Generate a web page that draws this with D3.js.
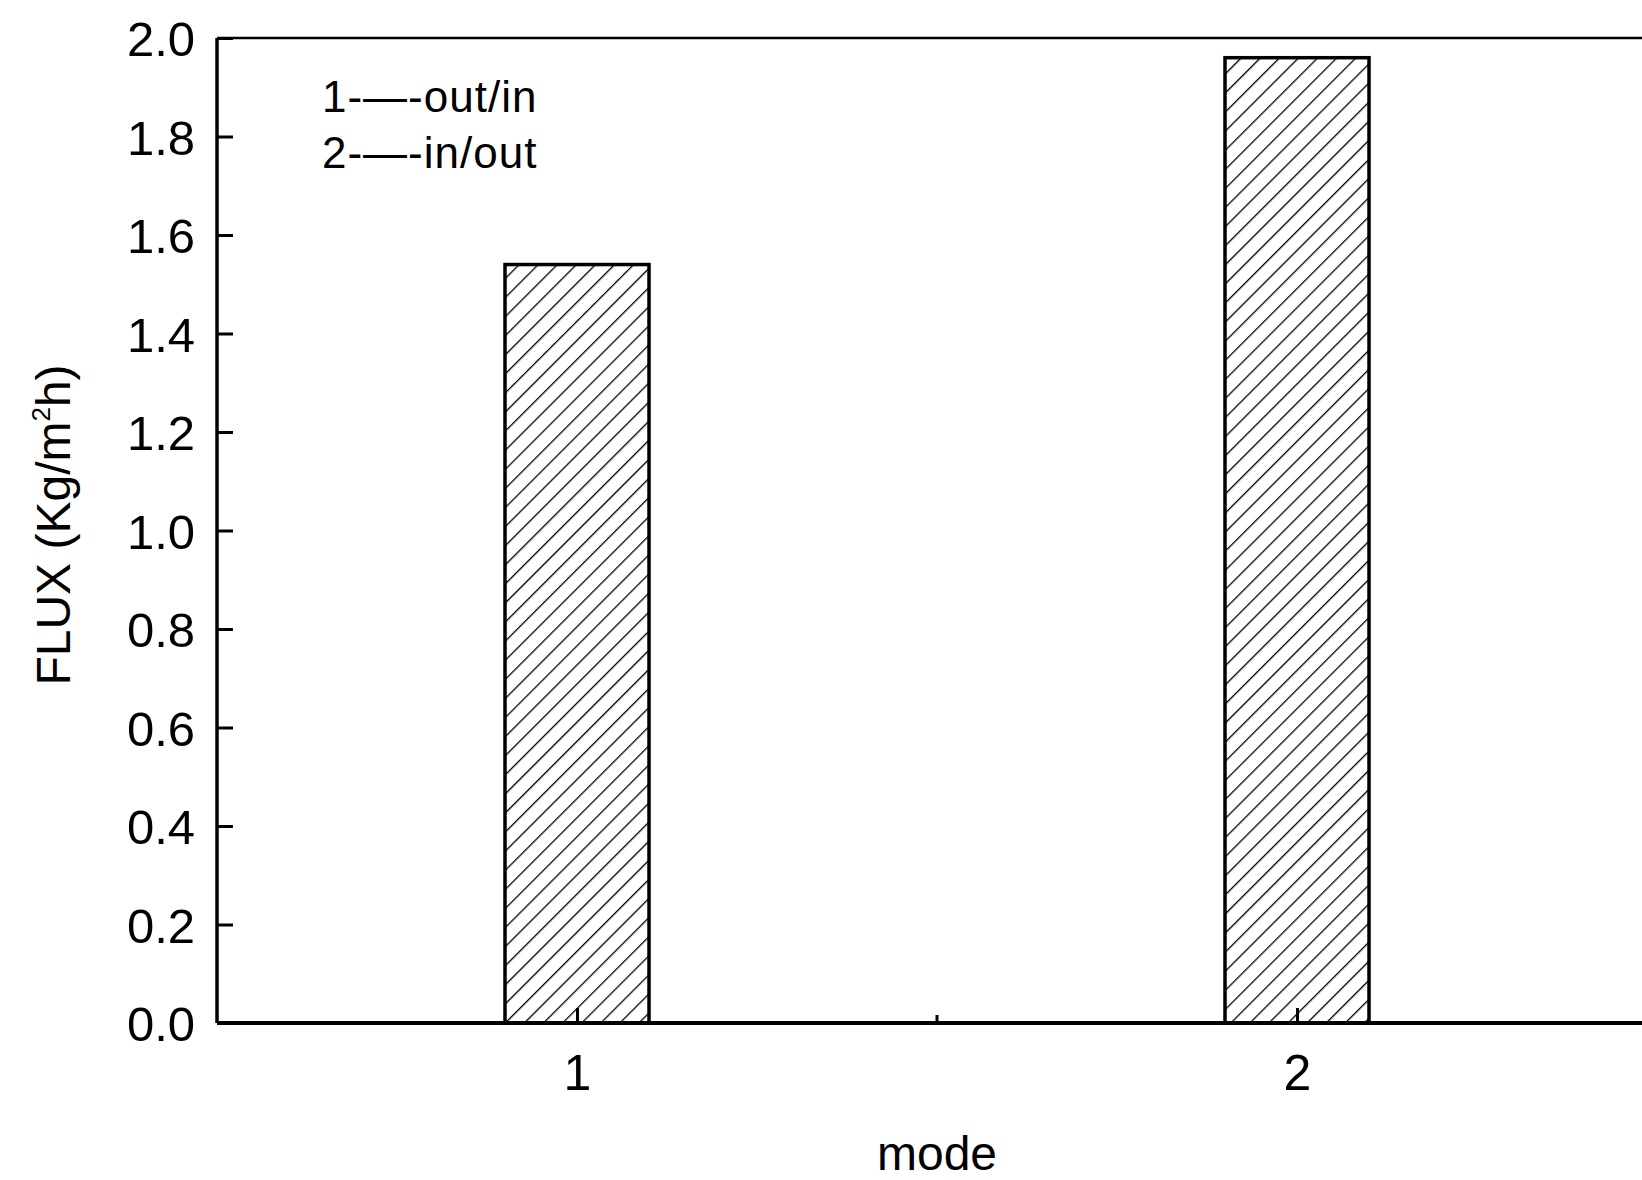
<!DOCTYPE html>
<html>
<head>
<meta charset="utf-8">
<script src="https://cdn.jsdelivr.net/npm/d3@7"></script>
<style>
  html, body { margin: 0; padding: 0; background: #fff; }
  svg { display: block; }
  text { font-family: "Liberation Sans", Arial, sans-serif; fill: #000; }
</style>
</head>
<body>
<svg id="chart" width="1642" height="1180"></svg>
<script>
// Permeate flux for the two flow modes
const modes = [1, 2];
const flux = [1.54, 1.96];
const yTicks = [0.0, 0.2, 0.4, 0.6, 0.8, 1.0, 1.2, 1.4, 1.6, 1.8, 2.0];
const xTicks = [1, 2];
const legendLines = ["1-\u2014-out/in", "2-\u2014-in/out"];

const svg = d3.select("#chart");
const W = 1642, H = 1180;
const plotLeft = 217, plotRight = 1657, plotTop = 38, plotBottom = 1023;

const x = d3.scaleLinear().domain([0.5, 2.5]).range([plotLeft, plotRight]);
const y = d3.scaleLinear().domain([0, 2.0]).range([plotBottom, plotTop]);
const barW = 0.2;

// diagonal hatching
const defs = svg.append("defs");
const pat = defs.append("pattern")
  .attr("id", "hatch")
  .attr("patternUnits", "userSpaceOnUse")
  .attr("width", 13.5).attr("height", 13.5)
  .attr("patternTransform", "rotate(45)");
pat.append("rect").attr("width", 13.5).attr("height", 13.5).attr("fill", "#fff");
pat.append("line")
  .attr("x1", 0).attr("y1", 0).attr("x2", 0).attr("y2", 13.5)
  .attr("stroke", "#000").attr("stroke-width", 2.6);

// bars
svg.append("g").selectAll("rect")
  .data(modes.map((m, i) => ({ m, v: flux[i] })))
  .join("rect")
  .attr("x", d => x(d.m - barW / 2))
  .attr("width", d => x(d.m + barW / 2) - x(d.m - barW / 2))
  .attr("y", d => y(d.v))
  .attr("height", d => y(0) - y(d.v))
  .attr("fill", "url(#hatch)")
  .attr("stroke", "#000")
  .attr("stroke-width", 3.5);

// top frame line
svg.append("line").attr("x1", plotLeft).attr("x2", W).attr("y1", plotTop).attr("y2", plotTop)
  .attr("stroke", "#000").attr("stroke-width", 2.5);

// y axis (ticks pointing inward)
const yAxis = d3.axisRight(y).tickValues(yTicks).tickSize(16).tickFormat(d3.format(".1f"));
const gy = svg.append("g").attr("transform", `translate(${plotLeft},0)`).call(yAxis);
gy.select(".domain").attr("stroke-width", 3.5).attr("d", `M0,${plotTop}V${plotBottom}`);
gy.selectAll(".tick line").attr("stroke-width", 3);
gy.selectAll(".tick text")
  .attr("x", -22).attr("text-anchor", "end").attr("dy", "0.36em")
  .style("font-size", "49px");

// x axis (ticks pointing inward)
const xAxis = d3.axisTop(x).tickValues(xTicks).tickSize(15).tickFormat(d3.format("d"));
const gx = svg.append("g").attr("transform", `translate(0,${plotBottom})`).call(xAxis);
gx.select(".domain").attr("stroke-width", 4).attr("d", `M${plotLeft},0H${W}`);
gx.selectAll(".tick line").attr("stroke-width", 3);
gx.selectAll(".tick text")
  .attr("y", 67).attr("dy", 0)
  .style("font-size", "50px");

// minor x tick
svg.append("line")
  .attr("x1", x(1.5)).attr("x2", x(1.5))
  .attr("y1", plotBottom).attr("y2", plotBottom - 8)
  .attr("stroke", "#000").attr("stroke-width", 3);

// axis titles
svg.append("text")
  .attr("x", (x(1) + x(2)) / 2).attr("y", 1170)
  .attr("text-anchor", "middle")
  .style("font-size", "48px")
  .text("mode");

const yt = svg.append("text")
  .attr("transform", `translate(70,${525}) rotate(-90)`)
  .attr("text-anchor", "middle")
  .style("font-size", "48px");
yt.append("tspan").text("FLUX (Kg/m");
yt.append("tspan").attr("dy", -20).style("font-size", "26px").text("2");
yt.append("tspan").attr("dy", 20).text("h)");

// legend text
svg.append("g").selectAll("text")
  .data(legendLines)
  .join("text")
  .attr("x", 322)
  .attr("y", (d, i) => 112 + i * 56)
  .style("font-size", "44px")
  .style("letter-spacing", "1px")
  .text(d => d);
</script>
</body>
</html>
